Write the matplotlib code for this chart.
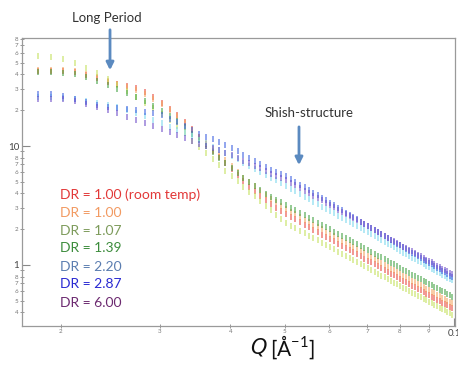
import matplotlib
matplotlib.use('Agg')
import matplotlib.pyplot as plt
from matplotlib.ticker import LogLocator, FuncFormatter
import numpy as np

# ---------------- data ----------------
q = [0.0182, 0.0192, 0.0202, 0.0212, 0.0222, 0.0232, 0.0242, 0.0252, 0.0262, 0.0272,
     0.0282, 0.0292, 0.0302, 0.0312, 0.0322, 0.0332, 0.0342, 0.0352, 0.0362, 0.0372,
     0.0382, 0.0392, 0.0402, 0.0412, 0.0422, 0.0432, 0.0442, 0.0452, 0.0462, 0.0472,
     0.0482, 0.0492, 0.0502, 0.0512, 0.0522, 0.0532, 0.0542, 0.0552, 0.0562, 0.0572,
     0.0582, 0.0592, 0.0602, 0.0612, 0.0622, 0.0632, 0.0642, 0.0652, 0.0662, 0.0672,
     0.0682, 0.0692, 0.0702, 0.0712, 0.0722, 0.0732, 0.0742, 0.0752, 0.0762, 0.0772,
     0.0782, 0.0792, 0.0802, 0.0812, 0.0822, 0.0832, 0.0842, 0.0852, 0.0862, 0.0872,
     0.0882, 0.0892, 0.0902, 0.0912, 0.0922, 0.0932, 0.0942, 0.0952, 0.0962, 0.0972,
     0.0982, 0.0992]

dr100_room = [42.7, 42.7, 42.7, 41.9, 39.5, 37.3, 34.5, 33.2, 31.9, 30.7, 28.4, 25.8, 23.0, 20.5,
              18.2, 15.9, 13.9, 11.9, 10.4, 9.08, 8.08, 7.20, 6.41, 5.71, 5.08, 4.52, 4.19, 3.80,
              3.52, 3.26, 3.01, 2.84,
              2.68, 2.55, 2.42, 2.30, 2.18, 2.08, 1.98, 1.89, 1.80, 1.72, 1.65, 1.58, 1.51, 1.45,
              1.39, 1.33, 1.28, 1.23, 1.18, 1.13, 1.09, 1.05, 1.01, 0.976, 0.942, 0.908, 0.876,
              0.847, 0.818, 0.790, 0.764, 0.739, 0.715, 0.693, 0.671, 0.650, 0.630, 0.611, 0.592,
              0.575, 0.558, 0.542, 0.526, 0.511, 0.497, 0.483, 0.469, 0.457, 0.444, 0.432]

dr100 = [43.5, 43.5, 43.5, 42.7, 40.3, 38.0, 35.2, 33.2, 31.3, 29.6, 27.4, 24.8, 22.5, 20.1,
         17.9, 15.6, 13.6, 11.9, 10.6, 9.44, 8.40, 7.63, 6.79, 6.05, 5.38, 4.98, 4.61, 4.19,
         3.87, 3.59, 3.38, 3.13,
         2.96, 2.80, 2.66, 2.53, 2.41, 2.29, 2.18, 2.08, 1.99, 1.90, 1.82, 1.74, 1.66, 1.59,
         1.53, 1.47, 1.41, 1.35, 1.30, 1.25, 1.20, 1.16, 1.12, 1.08, 1.04, 1.00, 0.965, 0.933,
         0.901, 0.871, 0.842, 0.814, 0.788, 0.763, 0.739, 0.716, 0.694, 0.673, 0.653, 0.633,
         0.614, 0.597, 0.580, 0.563, 0.547, 0.532, 0.517, 0.503, 0.490, 0.476]

dr107 = [57.1, 56.0, 53.8, 49.8, 45.2, 41.1, 36.6, 32.6, 29.0, 25.8, 23.0, 20.9, 18.6, 16.5,
         14.7, 12.9, 11.0, 9.81, 8.73, 7.78, 6.92, 6.16, 5.60, 5.08, 4.52, 4.11, 3.80, 3.45,
         3.15, 2.88, 2.65, 2.44,
         2.25, 2.14, 2.04, 1.94, 1.85, 1.76, 1.68, 1.61, 1.53, 1.47, 1.41, 1.35, 1.29, 1.24,
         1.19, 1.14, 1.10, 1.06, 1.02, 0.979, 0.943, 0.909, 0.876, 0.846, 0.816, 0.789, 0.762,
         0.736, 0.712, 0.689, 0.667, 0.646, 0.626, 0.606, 0.587, 0.570, 0.553, 0.537, 0.521,
         0.506, 0.491, 0.477, 0.464, 0.451, 0.438, 0.427, 0.415, 0.405, 0.394, 0.383]

dr139 = [41.9, 41.9, 41.1, 40.3, 38.0, 35.2, 32.6, 30.1, 27.9, 25.8, 23.9, 21.7, 19.7, 17.9,
         16.2, 14.5, 12.6, 11.2, 10.0, 8.91, 7.93, 7.20, 6.53, 5.93, 5.38, 4.98, 4.61, 4.27,
         3.95, 3.73, 3.52, 3.38,
         3.19, 3.03, 2.89, 2.75, 2.62, 2.50, 2.38, 2.27, 2.17, 2.08, 1.99, 1.91, 1.83, 1.76,
         1.68, 1.62, 1.56, 1.50, 1.44, 1.39, 1.34, 1.29, 1.24, 1.20, 1.16, 1.12, 1.08, 1.04,
         1.01, 0.976, 0.945, 0.915, 0.886, 0.858, 0.832, 0.807, 0.783, 0.760, 0.738, 0.716,
         0.696, 0.676, 0.657, 0.639, 0.621, 0.605, 0.588, 0.573, 0.558, 0.543]

dr220 = [25.8, 25.8, 25.3, 24.8, 23.9, 23.0, 22.1, 21.3, 20.1, 18.9, 17.9, 16.5, 15.6, 14.5,
         13.6, 12.9, 12.1, 11.2, 10.6, 9.81, 9.26, 8.73, 8.24, 7.78, 7.20, 6.79, 6.41, 6.05,
         5.71, 5.38, 5.18, 4.89,
         4.61, 4.37, 4.15, 3.95, 3.76, 3.58, 3.41, 3.25, 3.10, 2.96, 2.83, 2.71, 2.60, 2.49,
         2.39, 2.29, 2.20, 2.11, 2.03, 1.95, 1.88, 1.81, 1.74, 1.68, 1.62, 1.56, 1.51, 1.46,
         1.41, 1.36, 1.31, 1.27, 1.23, 1.19, 1.15, 1.12, 1.08, 1.05, 1.02, 0.988, 0.959,
         0.931, 0.905, 0.879, 0.854, 0.830, 0.807, 0.785, 0.764, 0.743]

dr287 = [27.4, 27.4, 26.3, 24.8, 23.4, 22.1, 21.3, 20.9, 20.5, 20.1, 19.3, 18.9, 18.2, 16.9,
         15.9, 14.7, 13.6, 12.6, 11.9, 11.5, 10.8, 10.2, 9.62, 9.08, 8.40, 7.93, 7.48, 7.06,
         6.66, 6.28, 6.05, 5.82,
         5.60, 5.29, 5.00, 4.74, 4.49, 4.26, 4.05, 3.85, 3.66, 3.49, 3.32, 3.17, 3.03, 2.89,
         2.76, 2.64, 2.53, 2.42, 2.32, 2.23, 2.14, 2.05, 1.97, 1.90, 1.82, 1.755, 1.69, 1.63,
         1.57, 1.51, 1.46, 1.41, 1.36, 1.31, 1.27, 1.23, 1.19, 1.15, 1.11, 1.08, 1.04, 1.01,
         0.977, 0.948, 0.919, 0.892, 0.865, 0.840, 0.816, 0.792]

dr600 = [24.8, 24.8, 24.8, 23.9, 22.5, 21.3, 20.1, 18.9, 17.5, 16.5, 15.6, 14.7, 13.9, 13.1,
         12.4, 11.7, 11.0, 10.4, 10.0, 9.62, 9.26, 8.73, 8.40, 7.93, 7.48, 7.20, 6.79, 6.53,
         6.16, 5.82, 5.60, 5.38,
         5.18, 4.91, 4.66, 4.43, 4.22, 4.02, 3.83, 3.65, 3.49, 3.33, 3.18, 3.05, 2.92, 2.79,
         2.68, 2.57, 2.47, 2.37, 2.28, 2.19, 2.11, 2.03, 1.96, 1.89, 1.82, 1.75, 1.69, 1.63,
         1.58, 1.53, 1.48, 1.43, 1.38, 1.34, 1.30, 1.26, 1.22, 1.18, 1.14, 1.11, 1.08, 1.05,
         1.02, 0.987, 0.959, 0.932, 0.906, 0.882, 0.858, 0.835]

labels = ["DR = 1.00 (room temp)", "DR = 1.00", "DR = 1.07", "DR = 1.39",
          "DR = 2.20", "DR = 2.87", "DR = 6.00"]
series = [dr100_room, dr100, dr107, dr139, dr220, dr287, dr600]
point_colors = ['#e8453c', '#f3a35c', '#c4e05a', '#3fa03f', '#7ad8ee', '#3c5ee0', '#6c4cc8']
label_colors = ['#e23838', '#f29a62', '#7d9b5b', '#3c8c3c', '#5b7db0', '#2a2ad2', '#6c2a70']

# ---------------- figure ----------------
plt.rcParams['font.family'] = ['Lato', 'DejaVu Sans']

fig = plt.figure(figsize=(4.58, 3.65), dpi=100)
ax = fig.add_axes([0.048, 0.1068, 0.9454, 0.7891])

for vals, col in zip(series, point_colors):
    ax.plot(q, vals, ls='none', marker='|', ms=4.2, mew=1.3, color=col, alpha=0.6)

ax.set_xscale('log')
ax.set_yscale('log')
ax.set_xlim(0.01705, 0.1003)
ax.set_ylim(0.307, 80.9)

def major_fmt(v, pos):
    return f'{v:g}'

def minor_fmt_x(v, pos):
    e = np.floor(np.log10(v) + 1e-9)
    return str(int(round(v / 10 ** e)))

def minor_fmt_y(v, pos):
    e = np.floor(np.log10(v) + 1e-9)
    d = int(round(v / 10 ** e))
    return '' if d == 9 else str(d)

for axis, mfmt in ((ax.xaxis, minor_fmt_x), (ax.yaxis, minor_fmt_y)):
    axis.set_major_locator(LogLocator(base=10, subs=(1.0,)))
    axis.set_minor_locator(LogLocator(base=10, subs=tuple(range(2, 10))))
    axis.set_major_formatter(FuncFormatter(major_fmt))
    axis.set_minor_formatter(FuncFormatter(mfmt))

ax.tick_params(which='major', direction='in', length=6, width=0.8, color='#888888',
               labelsize=7, labelcolor='#444444', pad=2)
ax.tick_params(which='minor', direction='inout', length=3, width=0.6, color='#888888',
               labelsize=4.5, labelcolor='#777777', pad=1)
for s in ax.spines.values():
    s.set_color('#9a9a9a')
    s.set_linewidth(0.9)

# legend-like coloured texts
ys = [0.4658, 0.4164, 0.3671, 0.3205, 0.2685, 0.2219, 0.1699]
for lab, col, yy in zip(labels, label_colors, ys):
    fig.text(0.131, yy, lab, color=col, fontsize=10, va='center', ha='left')

# annotations
fig.text(0.2336, 0.9507, 'Long Period', fontsize=9.5, color='#333333', ha='center', va='center')
ax.annotate('', xy=(0.2402, 0.800), xycoords='figure fraction',
            xytext=(0.2402, 0.926), textcoords='figure fraction',
            arrowprops=dict(arrowstyle='-|>', color='#5b8ac0', lw=2.0, mutation_scale=11))
fig.text(0.6747, 0.6904, 'Shish-structure', fontsize=9.5, color='#333333', ha='center', va='center')
ax.annotate('', xy=(0.6528, 0.540), xycoords='figure fraction',
            xytext=(0.6528, 0.660), textcoords='figure fraction',
            arrowprops=dict(arrowstyle='-|>', color='#5b8ac0', lw=2.0, mutation_scale=11))

# axis title: italic Q followed by [Å^-1]
fig.text(0.582, 0.049, 'Q', fontsize=15, family='DejaVu Sans', style='oblique',
         color='#111111', ha='right', va='center')
fig.text(0.590, 0.049, r'[Å$^{\mathregular{-1}}$]', fontsize=15, color='#111111',
         ha='left', va='center')

fig.savefig('out.png', dpi=100)
